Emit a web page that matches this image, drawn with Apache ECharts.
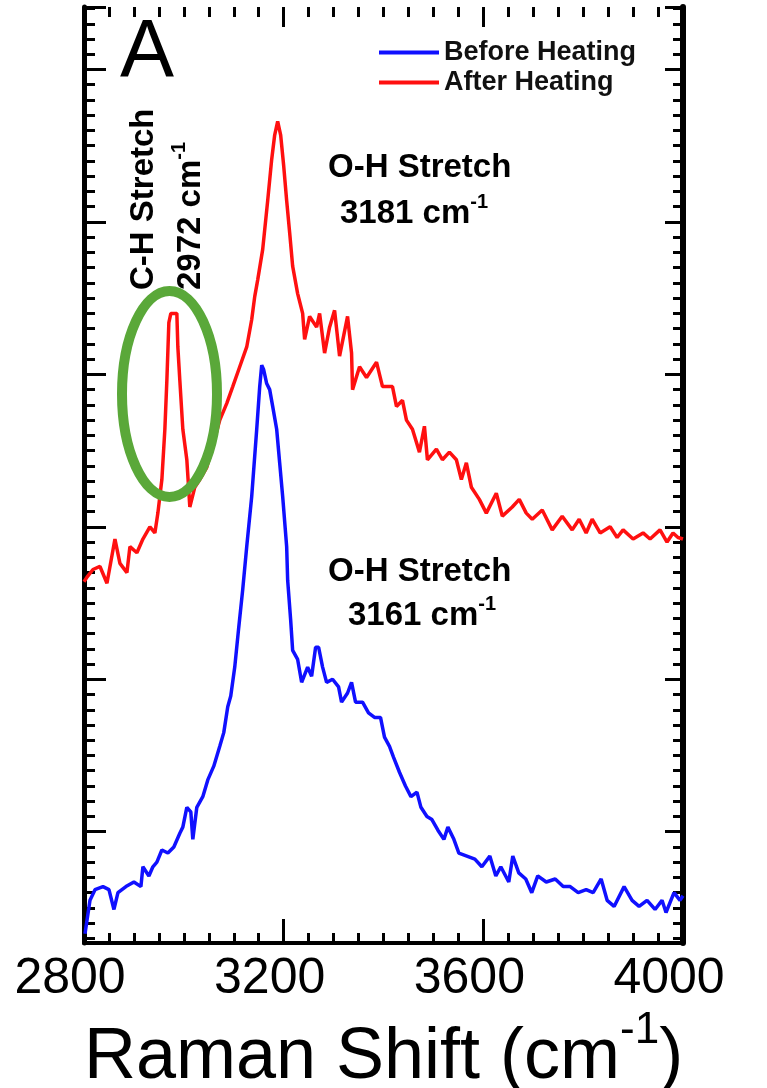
<!DOCTYPE html>
<html>
<head>
<meta charset="utf-8">
<script src="https://cdn.jsdelivr.net/npm/echarts@6/dist/echarts.min.js"></script>
<style>
html, body { margin: 0; padding: 0; background: #fff; }
#main { width: 767px; height: 1088px; }
</style>
</head>
<body>
<div id="main"></div>
<script>
// Raman spectra, x = Raman shift (cm-1), y = intensity (arb. units, one major tick = 1)
var seriesNames = ['Before Heating', 'After Heating'];

var beforeHeating = [
	[2802,0.33],[2812,0.55],[2822,0.62],[2838,0.64],[2850,0.62],[2860,0.49],[2868,0.60],[2884,0.64],
	[2900,0.67],[2914,0.64],[2918,0.77],[2930,0.71],[2938,0.77],[2946,0.80],[2956,0.88],[2968,0.86],
	[2980,0.90],[2992,0.99],[2998,1.03],[3006,1.16],[3014,1.13],[3018,0.95],[3026,1.16],[3038,1.23],
	[3048,1.34],[3060,1.43],[3072,1.56],[3080,1.65],[3088,1.82],[3094,1.89],[3102,2.08],[3110,2.34],
	[3118,2.59],[3126,2.87],[3136,3.20],[3146,3.64],[3152,3.92],[3156,4.06],[3160,4.03],[3166,3.94],
	[3172,3.90],[3178,3.79],[3186,3.64],[3192,3.42],[3198,3.20],[3206,2.87],[3208,2.65],[3214,2.39],
	[3218,2.19],[3228,2.13],[3236,1.98],[3248,2.08],[3256,2.02],[3264,2.21],[3270,2.21],[3278,2.08],
	[3286,1.98],[3298,2.00],[3310,1.95],[3316,1.85],[3328,1.91],[3336,1.98],[3344,1.85],[3358,1.85],
	[3370,1.78],[3382,1.75],[3394,1.75],[3402,1.62],[3412,1.56],[3420,1.49],[3432,1.39],[3444,1.30],
	[3455,1.23],[3467,1.26],[3475,1.16],[3487,1.10],[3497,1.08],[3509,1.01],[3521,0.95],[3529,1.03],
	[3541,0.95],[3551,0.86],[3567,0.84],[3583,0.82],[3597,0.77],[3613,0.84],[3625,0.71],[3635,0.77],
	[3651,0.67],[3659,0.84],[3671,0.73],[3685,0.69],[3697,0.60],[3709,0.71],[3726,0.67],[3744,0.69],
	[3760,0.64],[3774,0.64],[3790,0.60],[3806,0.62],[3820,0.60],[3836,0.69],[3848,0.55],[3862,0.51],
	[3882,0.64],[3898,0.55],[3912,0.51],[3928,0.55],[3944,0.49],[3958,0.55],[3966,0.47],[3982,0.60],
	[3994,0.55],[4000,0.58]
];

var afterHeating = [
	[2800,2.64],[2806,2.67],[2818,2.72],[2832,2.74],[2846,2.63],[2862,2.92],[2872,2.76],[2886,2.70],
	[2892,2.87],[2906,2.83],[2918,2.92],[2932,3.00],[2942,2.96],[2948,3.09],[2956,3.31],[2962,3.64],
	[2966,3.96],[2970,4.34],[2974,4.40],[2986,4.40],[2988,4.18],[2992,3.96],[2998,3.64],[3006,3.44],
	[3012,3.13],[3022,3.26],[3032,3.31],[3046,3.39],[3058,3.53],[3072,3.70],[3086,3.81],[3098,3.92],
	[3112,4.05],[3126,4.18],[3136,4.36],[3142,4.51],[3148,4.62],[3158,4.82],[3168,5.14],[3176,5.41],
	[3182,5.57],[3188,5.66],[3194,5.57],[3200,5.37],[3206,5.14],[3212,4.93],[3218,4.71],[3228,4.53],
	[3238,4.40],[3242,4.23],[3252,4.38],[3266,4.31],[3272,4.40],[3282,4.14],[3292,4.31],[3302,4.42],
	[3312,4.12],[3328,4.38],[3336,4.14],[3338,3.90],[3352,4.05],[3366,3.98],[3386,4.08],[3398,3.92],
	[3418,3.92],[3426,3.79],[3438,3.83],[3446,3.70],[3458,3.64],[3472,3.49],[3482,3.66],[3488,3.44],
	[3506,3.51],[3518,3.44],[3532,3.49],[3546,3.44],[3556,3.31],[3566,3.42],[3576,3.26],[3592,3.18],
	[3606,3.09],[3626,3.22],[3638,3.07],[3658,3.13],[3672,3.18],[3686,3.09],[3698,3.05],[3718,3.11],
	[3738,2.98],[3758,3.07],[3778,2.98],[3792,3.05],[3806,2.96],[3818,3.05],[3834,2.96],[3854,3.00],
	[3868,2.93],[3880,2.98],[3900,2.92],[3920,2.96],[3934,2.92],[3954,2.98],[3968,2.90],[3980,2.96],
	[3990,2.93],[4000,2.92]
];

var xMin = 2800, xMax = 4000, xStep = 400;
var yMin = 0.27, yMax = 6.41;

var myChart = echarts.init(document.getElementById('main'));

var font = 'Liberation Sans, Arial, sans-serif';

function xAxisOf(pos, tickLen, minorLen, showLabel) {
	return {
		type: 'value',
		position: pos,
		min: xMin,
		max: xMax,
		interval: xStep,
		axisLine: { show: pos === 'bottom', lineStyle: { color: '#000', width: 4 } },
		axisTick: { show: true, inside: true, length: tickLen, lineStyle: { color: '#000', width: 3 } },
		minorTick: { show: true, splitNumber: 8, length: minorLen, lineStyle: { color: '#000', width: 3 } },
		splitLine: { show: false },
		axisLabel: {
			show: showLabel,
			margin: 11,
			fontSize: 50,
			fontFamily: font,
			color: '#000',
			padding: [0, 28, 0, 0],
			formatter: function (v) { return String(v); }
		}
	};
}

function yAxisOf(pos, tickLen, minorLen, lineWidth) {
	return {
		type: 'value',
		position: pos,
		min: yMin,
		max: yMax,
		minInterval: 1,
		maxInterval: 1,
		axisLine: { show: true, lineStyle: { color: '#000', width: lineWidth } },
		axisTick: { show: true, inside: true, length: tickLen, lineStyle: { color: '#000', width: 3 } },
		minorTick: { show: true, splitNumber: 10, length: minorLen, lineStyle: { color: '#000', width: 3 } },
		splitLine: { show: false },
		axisLabel: { show: false }
	};
}

var bottomAxis = xAxisOf('bottom', 24, 10, true);
bottomAxis.name = '{n|Raman Shift (cm}{s|-1}{n|)}';
bottomAxis.nameLocation = 'middle';
bottomAxis.nameGap = 35;
bottomAxis.nameTextStyle = {
	rich: {
		n: { fontSize: 72, lineHeight: 85, verticalAlign: 'bottom', fontFamily: font, color: '#000' },
		s: { fontSize: 44, lineHeight: 44, verticalAlign: 'top', fontFamily: font, color: '#000' }
	}
};

var annoRich = {
	m: { fontSize: 33, lineHeight: 38, verticalAlign: 'bottom', fontWeight: 'bold', fontFamily: font, fill: '#000' },
	s: { fontSize: 20, lineHeight: 20, verticalAlign: 'top', fontWeight: 'bold', fontFamily: font, fill: '#000' }
};

function annoText(x, y, text, rot) {
	return {
		type: 'text',
		x: x,
		y: y,
		rotation: rot || 0,
		z: 10,
		style: {
			text: text,
			align: 'left',
			verticalAlign: 'middle',
			rich: annoRich
		}
	};
}

option = {
	animation: false,
	backgroundColor: '#fff',
	grid: { left: 84, right: 84, top: 7, bottom: 145, containLabel: false, outerBoundsMode: 'none' },
	legend: {
		data: seriesNames,
		orient: 'vertical',
		left: 374,
		top: 34,
		icon: 'rect',
		itemWidth: 60,
		itemHeight: 4,
		itemGap: 3,
		textStyle: { fontSize: 27, lineHeight: 27, fontWeight: 'bold', fontFamily: font, color: '#111' }
	},
	xAxis: [ bottomAxis, xAxisOf('top', 20, 10, false) ],
	yAxis: [ yAxisOf('left', 22, 11, 5), yAxisOf('right', 18, 10, 6) ],
	graphic: [
		{
			type: 'text', x: 120, y: 54, z: 10,
			style: { text: 'A', fontSize: 81, fontFamily: font, fill: '#000', align: 'left', verticalAlign: 'middle' }
		},
		annoText(328, 165, '{m|O-H Stretch}'),
		annoText(340, 211, '{m|3181 cm}{s|-1}'),
		annoText(328, 569, '{m|O-H Stretch}'),
		annoText(348, 613, '{m|3161 cm}{s|-1}'),
		annoText(141, 290, '{m|C-H Stretch}', Math.PI / 2),
		annoText(188, 290, '{m|2972 cm}{s|-1}', Math.PI / 2),
		{
			type: 'ellipse', z: 11,
			shape: { cx: 169.5, cy: 394, rx: 47.5, ry: 103 },
			style: { fill: 'none', stroke: '#5aa839', lineWidth: 10 }
		}
	],
	series: [
		{
			name: seriesNames[0],
			type: 'line',
			data: beforeHeating,
			showSymbol: false,
			color: '#1010ff',
			lineStyle: { width: 3.5, color: '#1010ff' }
		},
		{
			name: seriesNames[1],
			type: 'line',
			data: afterHeating,
			showSymbol: false,
			color: '#ff1010',
			lineStyle: { width: 3.5, color: '#ff1010' }
		}
	]
};

myChart.setOption(option);
</script>
</body>
</html>
